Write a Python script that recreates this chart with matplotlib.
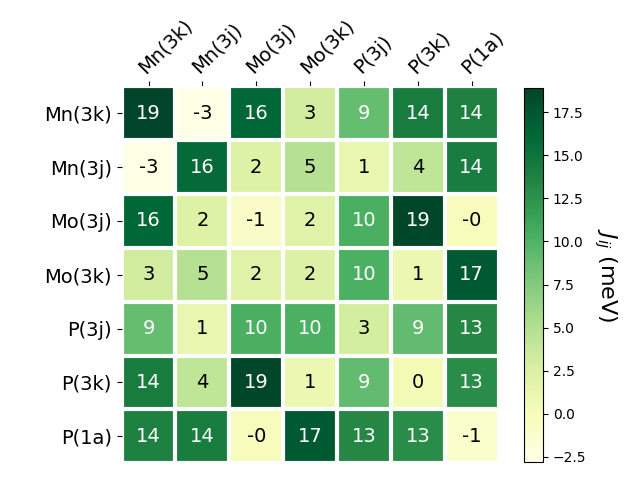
import numpy as np
import matplotlib
matplotlib.use("Agg")
import matplotlib.pyplot as plt

labels = ["Mn(3k)", "Mn(3j)", "Mo(3j)", "Mo(3k)", "P(3j)", "P(3k)", "P(1a)"]

row_mn3k = [18.9, -2.8, 16.2, 3.1, 8.9, 14.2, 13.8]
row_mn3j = [-2.8, 15.8, 2.2, 4.8, 1.1, 4.2, 14.1]
row_mo3j = [16.2, 2.2, -0.9, 2.1, 10.3, 18.8, -0.3]
row_mo3k = [3.1, 4.8, 2.1, 2.3, 10.2, 0.9, 17.2]
row_p3j = [8.9, 1.1, 10.3, 10.2, 2.9, 9.1, 13.2]
row_p3k = [14.2, 4.2, 18.8, 0.9, 9.1, 0.3, 12.8]
row_p1a = [13.8, 14.1, -0.3, 17.2, 13.2, 12.8, -1.2]

data = np.array([row_mn3k, row_mn3j, row_mo3j, row_mo3k, row_p3j, row_p3k, row_p1a])

fig = plt.figure(figsize=(6.4, 4.8), dpi=100)
ax = fig.add_axes([0.190, 0.035, 0.589, 0.785])
cax = fig.add_axes([0.819, 0.0375, 0.0297, 0.779])

im = ax.imshow(data, cmap="YlGn", aspect="auto")
cbar = fig.colorbar(im, cax=cax)
cbar.ax.set_ylabel("$J_{ij}$ (meV)", rotation=-90, va="bottom", fontsize=16)

ax.set_xticks(np.arange(len(labels)))
ax.set_yticks(np.arange(len(labels)))
ax.set_xticklabels(labels, fontsize=14)
ax.set_yticklabels(labels, fontsize=14)
ax.tick_params(top=True, bottom=False, labeltop=True, labelbottom=False)
plt.setp(ax.get_xticklabels(), rotation=45, ha="left", rotation_mode="anchor")

for s in ax.spines.values():
    s.set_visible(False)
ax.set_xticks(np.arange(len(labels) + 1) - .5, minor=True)
ax.set_yticks(np.arange(len(labels) + 1) - .5, minor=True)
ax.grid(which="minor", color="w", linestyle='-', linewidth=3)
ax.tick_params(which="minor", bottom=False, left=False, top=False)

thr = im.norm(data.max()) / 2.
for i in range(data.shape[0]):
    for j in range(data.shape[1]):
        c = "white" if im.norm(data[i, j]) > thr else "black"
        ax.text(j, i, f"{data[i, j]:.0f}", ha="center", va="center", color=c, fontsize=14)

fig.savefig("out.png", dpi=100)
